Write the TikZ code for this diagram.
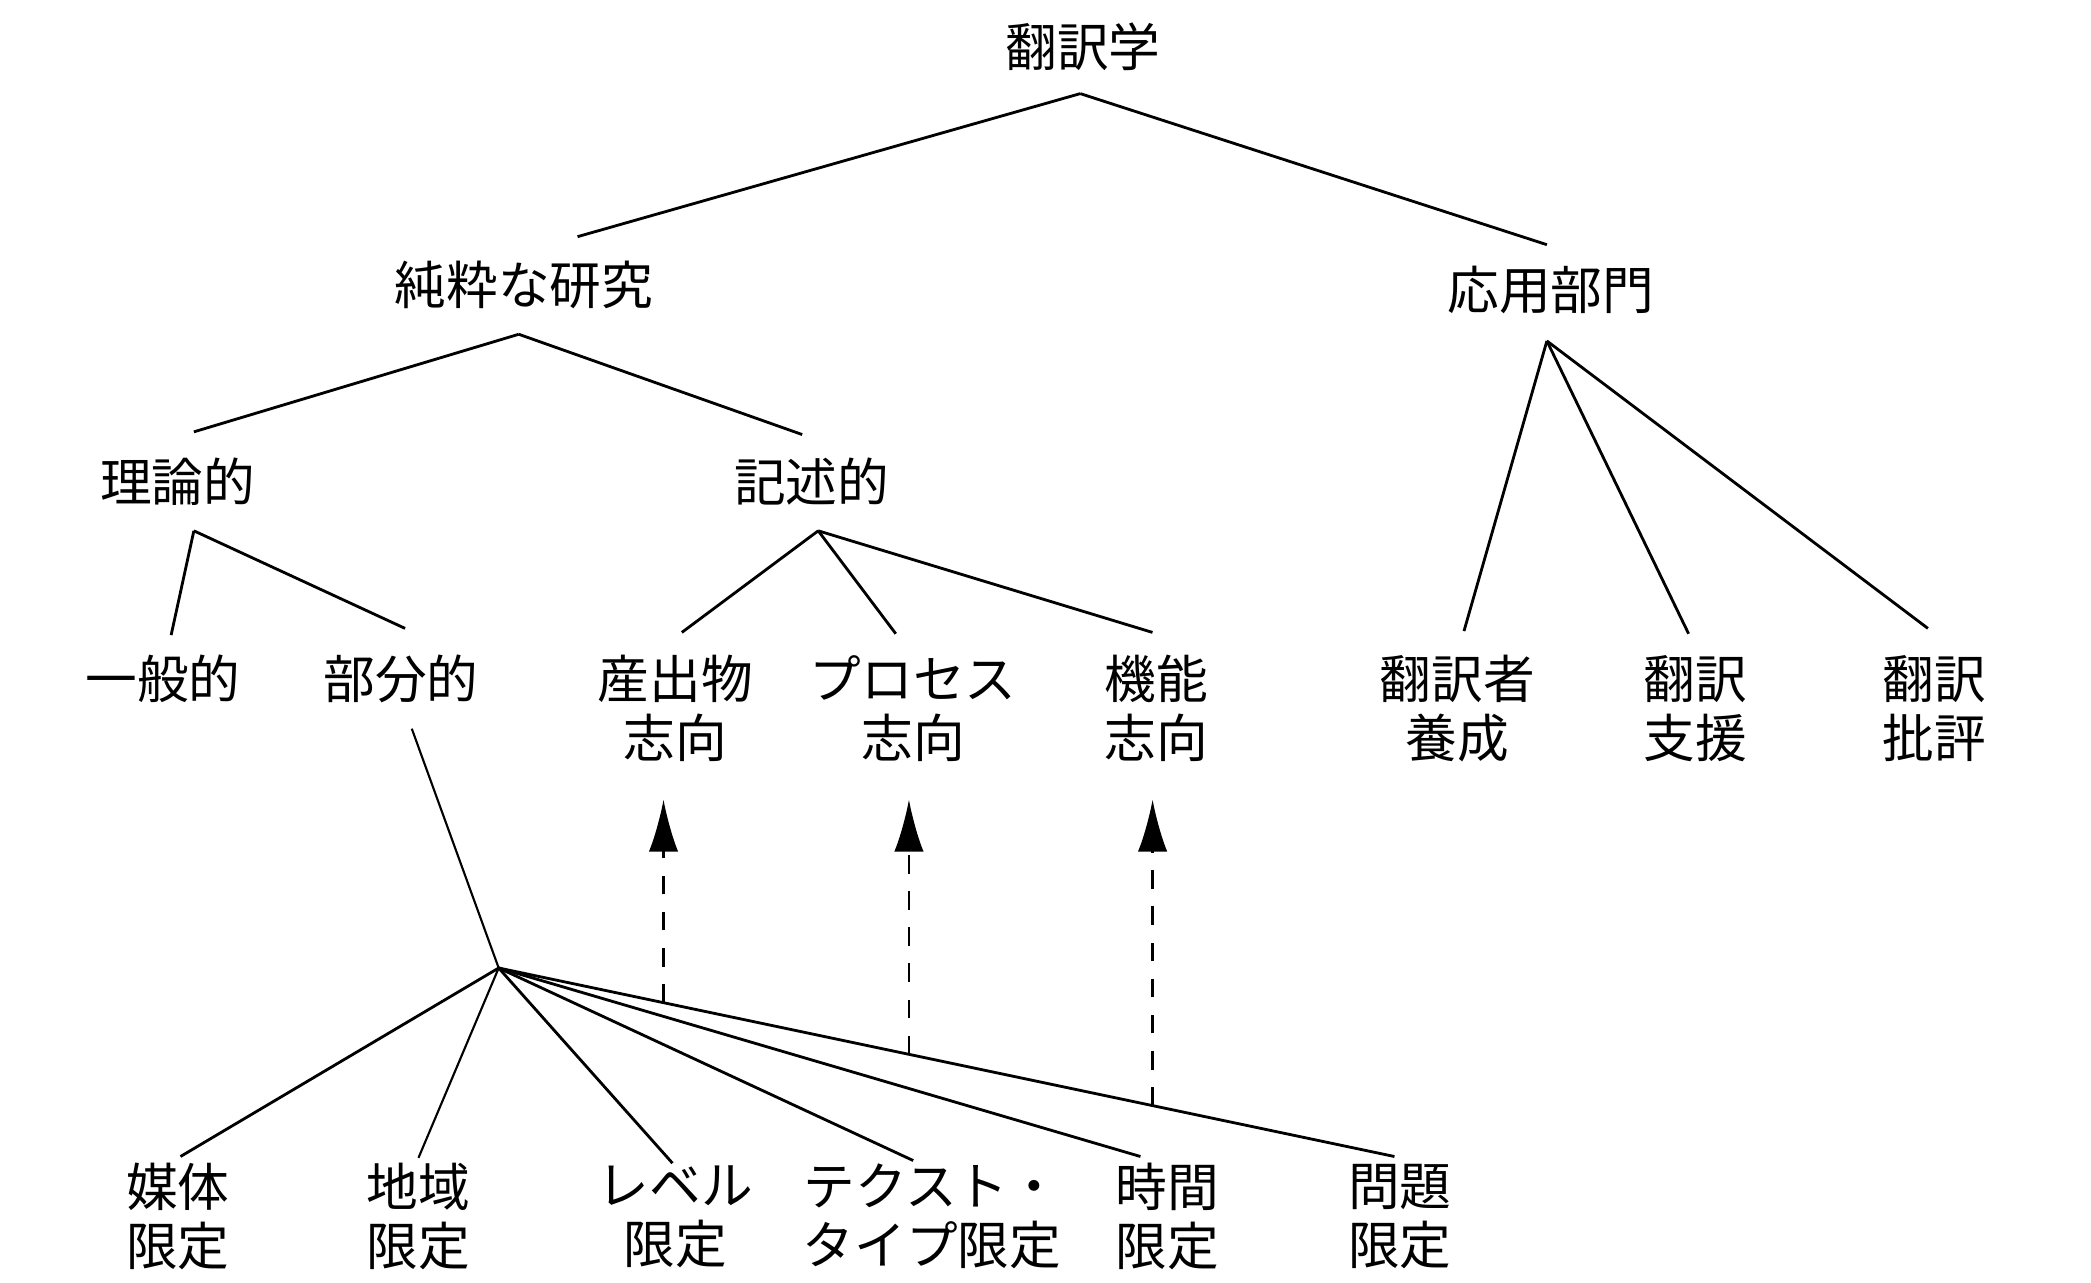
\documentclass[tikz,border=0pt]{standalone}
\usepackage{fontspec}
\setmainfont{Noto Sans CJK JP}
\usetikzlibrary{arrows.meta}
\begin{document}
\begin{tikzpicture}[x=0.1mm,y=-0.1mm]
\tikzset{term/.style={inner sep=0pt,align=center,font=\fontsize{11}{12.5}\selectfont},
  branch/.style={line width=0.6pt},
  twig/.style={line width=0.45pt},
  flow/.style={line width=0.5pt,dash pattern=on 1.4mm off 1.3mm,-{Latex[length=3.9mm,width=2.2mm]}}}
\useasboundingbox (0,0) rectangle (1564,959);
\node[term] (trans) at (810,35) {翻訳学};
\node[term] (pure) at (392,213) {純粋な研究};
\node[term] (appl) at (1160,217) {応用部門};
\node[term] (theo) at (133,360) {理論的};
\node[term] (desc) at (607,360) {記述的};
\node[term] (gen) at (122,508) {一般的};
\node[term] (part) at (300,508) {部分的};
\node[term] (prod) at (505,530) {産出物\\志向};
\node[term] (proc) at (683,530) {プロセス\\志向};
\node[term] (func) at (865,530) {機能\\志向};
\node[term] (train) at (1090,530) {翻訳者\\養成};
\node[term] (aid) at (1268,530) {翻訳\\支援};
\node[term] (crit) at (1447,530) {翻訳\\批評};
\node[term] (medium) at (133,910) {媒体\\限定};
\node[term] (area) at (313,910) {地域\\限定};
\node[term] (level) at (505,910) {レベル\\限定};
\node[term] (text) at (697,910) {テクスト・\\タイプ限定};
\node[term] (time) at (873,910) {時間\\限定};
\node[term] (issue) at (1047,910) {問題\\限定};
\coordinate (hub) at (373,724);
\coordinate (tip) at (0,598);
\draw[branch] ([shift={(-2,35)}]trans.center) -- ([shift={(40,-36)}]pure.center);
\draw[branch] ([shift={(-2,35)}]trans.center) -- ([shift={(-3,-34)}]appl.center);
\draw[branch] ([shift={(-4,37)}]pure.center) -- ([shift={(12,-37)}]theo.center);
\draw[branch] ([shift={(-4,37)}]pure.center) -- ([shift={(-7,-35)}]desc.center);
\draw[branch] ([shift={(12,37)}]theo.center) -- ([shift={(6,-33)}]gen.center);
\draw[branch] ([shift={(12,37)}]theo.center) -- ([shift={(3,-38)}]part.center);
\draw[branch] ([shift={(5,37)}]desc.center) -- ([shift={(5,-57)}]prod.center);
\draw[branch] ([shift={(5,37)}]desc.center) -- ([shift={(-13,-56)}]proc.center);
\draw[branch] ([shift={(5,37)}]desc.center) -- ([shift={(-3,-57)}]func.center);
\draw[branch] ([shift={(-3,38)}]appl.center) -- ([shift={(5,-58)}]train.center);
\draw[branch] ([shift={(-3,38)}]appl.center) -- ([shift={(-5,-56)}]aid.center);
\draw[branch] ([shift={(-3,38)}]appl.center) -- ([shift={(-5,-60)}]crit.center);
\draw[twig] ([shift={(8,37)}]part.center) -- (hub);
\draw[branch] (hub) -- ([shift={(2,-45)}]medium.center);
\draw[twig] (hub) -- ([shift={(0,-44)}]area.center);
\draw[branch] (hub) -- ([shift={(-2,-40)}]level.center);
\draw[branch] (hub) -- ([shift={(-14,-42)}]text.center);
\draw[branch] (hub) -- ([shift={(-20,-45)}]time.center);
\draw[branch] (hub) -- ([shift={(-4,-45)}]issue.center) coordinate[pos=0.184] (f1) coordinate[pos=0.458] (f2) coordinate[pos=0.73] (f3);
\draw[flow] (f1) -- (f1 |- tip);
\draw[flow] (f2) -- (f2 |- tip);
\draw[flow] (f3) -- (f3 |- tip);
\end{tikzpicture}
\end{document}
